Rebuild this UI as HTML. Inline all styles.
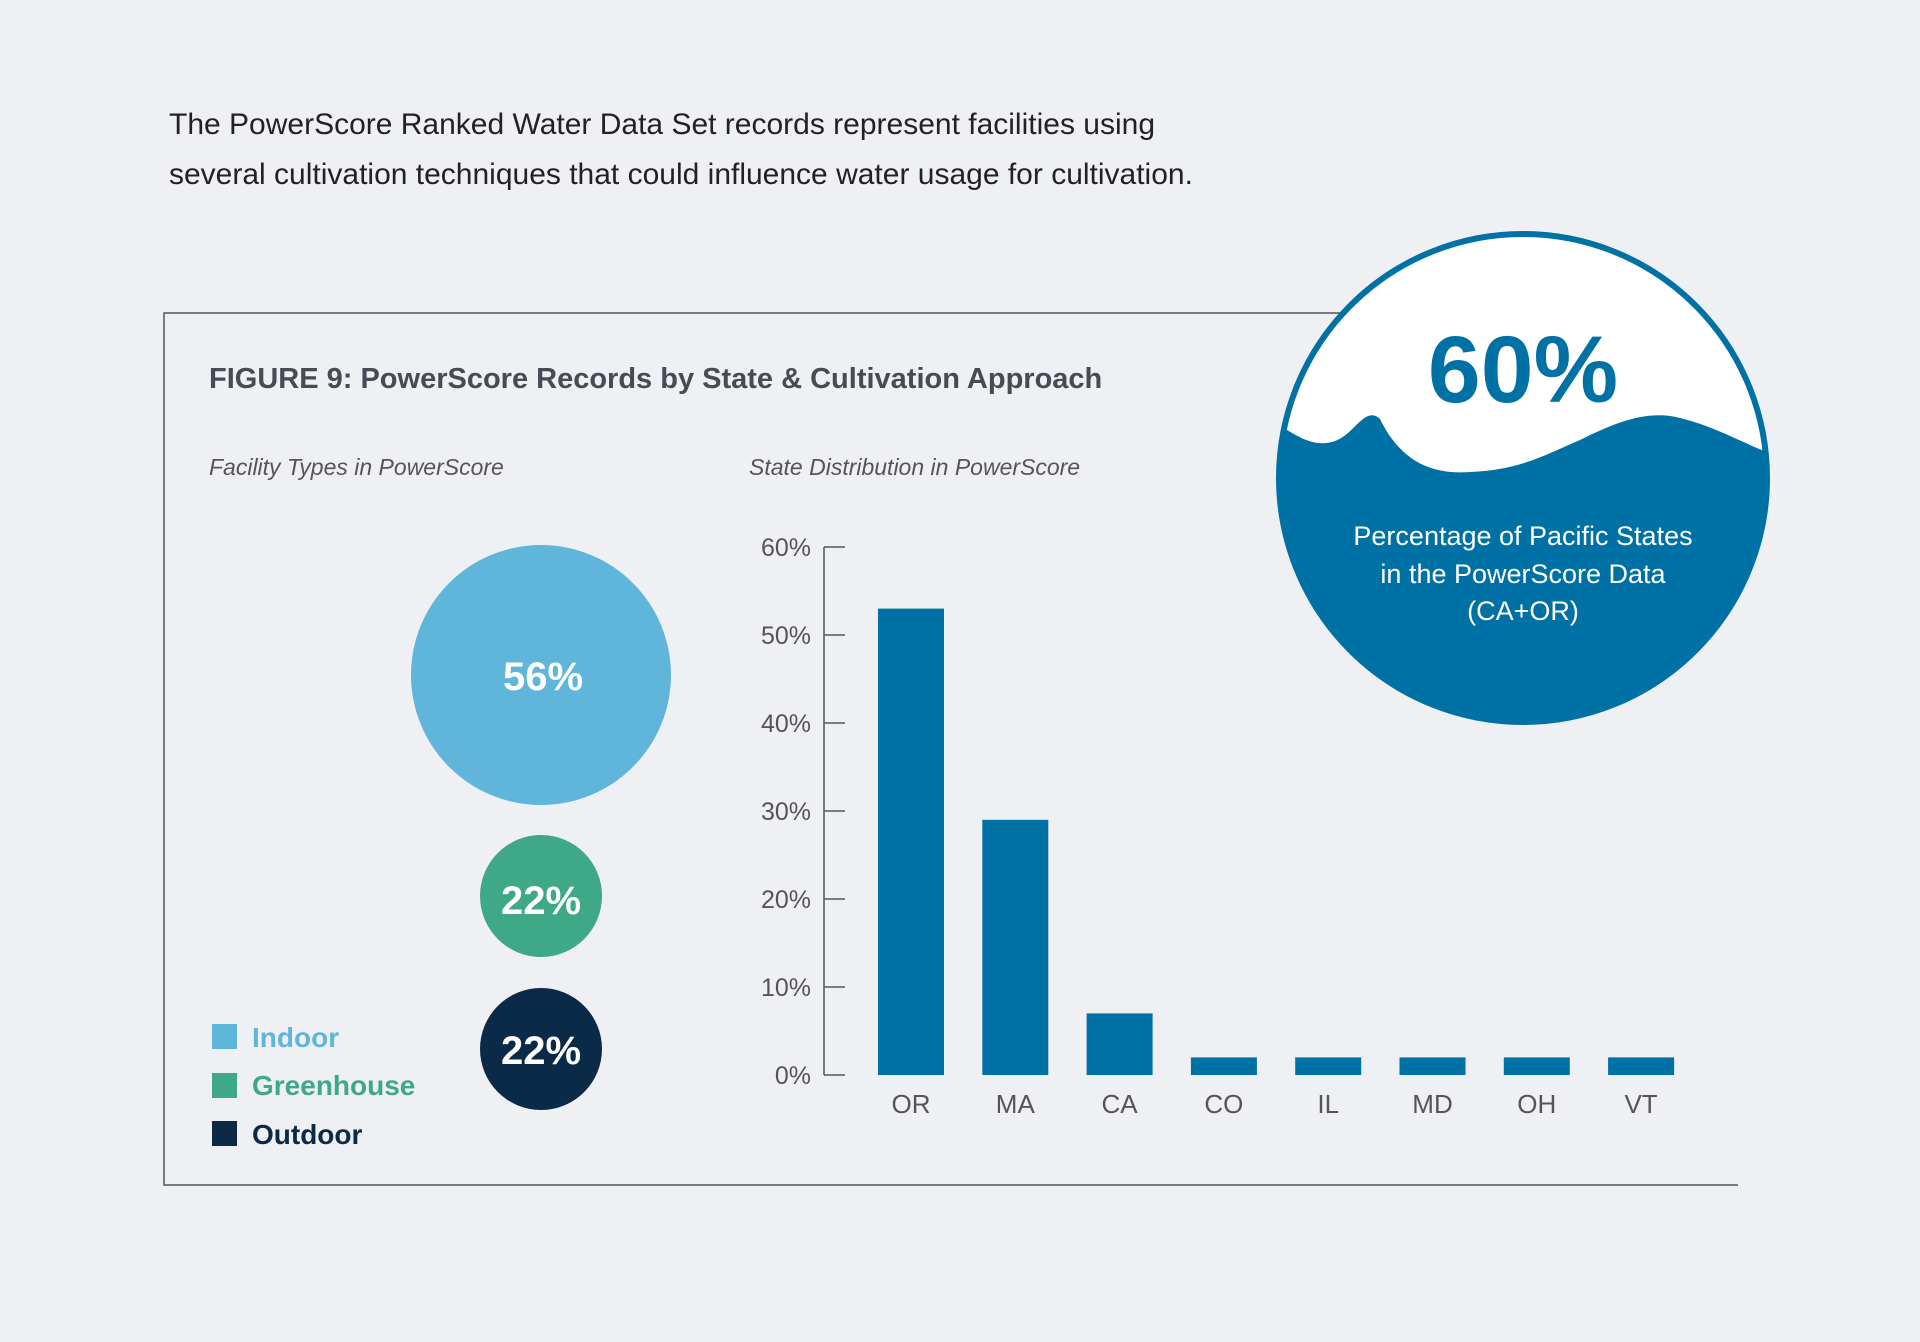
<!DOCTYPE html>
<html><head><meta charset="utf-8">
<style>
body{margin:0;width:1920px;height:1342px;background:#eff0f4;font-family:"Liberation Sans",sans-serif;overflow:hidden}
svg{position:absolute;left:0;top:0}
</style></head>
<body>
<svg width="1920" height="1342">
<g font-size="30" fill="#222" font-weight="300">
<text x="169" y="134">The PowerScore Ranked Water Data Set records represent facilities using</text>
<text x="169" y="184">several cultivation techniques that could influence water usage for cultivation.</text>
</g>
<path d="M1340 313 L164 313 L164 1185 L1738 1185" fill="none" stroke="#555" stroke-width="1.5"/>
<text x="209" y="388" font-size="29" font-weight="bold" fill="#4a4a55">FIGURE 9: PowerScore Records by State &amp; Cultivation Approach</text>
<text x="209" y="475" font-size="23" font-style="italic" fill="#555">Facility Types in PowerScore</text>
<text x="749" y="475" font-size="23" font-style="italic" fill="#555">State Distribution in PowerScore</text>
<g font-weight="bold" font-size="40" fill="#fff" text-anchor="middle">
<circle cx="541" cy="675" r="130" fill="#5fb6da"/>
<text x="543" y="690">56%</text>
<circle cx="541" cy="896" r="61" fill="#3fa886"/>
<text x="541" y="914">22%</text>
<circle cx="541" cy="1049" r="61" fill="#0b2a47"/>
<text x="541" y="1064">22%</text>
</g>
<g font-size="28" font-weight="bold">
<rect x="212" y="1024" width="25" height="25" fill="#5fb6da"/>
<text x="252" y="1047" fill="#5fb6da">Indoor</text>
<rect x="212" y="1073" width="25" height="25" fill="#3fa886"/>
<text x="252" y="1095" fill="#3fa886">Greenhouse</text>
<rect x="212" y="1121" width="25" height="25" fill="#0b2a47"/>
<text x="252" y="1144" fill="#0b2a47">Outdoor</text>
</g>
<g id="chart"></g>
<g>
<defs><clipPath id="cc"><circle cx="1523" cy="478" r="244"/></clipPath></defs>
<circle cx="1523" cy="478" r="244" fill="#fff"/>
<path clip-path="url(#cc)" fill="#0071a4" d="M1270 420 C1290 430 1310 450 1335 441 C1355 434 1365 405 1380 419 C1400 460 1430 475 1470 472 C1520 470 1545 455 1580 440 C1620 420 1650 410 1680 418 C1720 428 1745 445 1775 455 L1775 740 L1270 740 Z"/>
<circle cx="1523" cy="478" r="244" fill="none" stroke="#0071a4" stroke-width="6"/>
<text x="1523" y="402" text-anchor="middle" font-size="95" font-weight="bold" fill="#0071a4">60%</text>
<g font-size="27" fill="#fff" text-anchor="middle">
<text x="1523" y="545">Percentage of Pacific States</text>
<text x="1523" y="583">in the PowerScore Data</text>
<text x="1523" y="620">(CA+OR)</text>
</g>
</g>
</svg>
<script>
const categories=["OR","MA","CA","CO","IL","MD","OH","VT"];
const values=[53,29,7,2,2,2,2,2];
const tickValues=[0,10,20,30,40,50,60];
const tickLabels=["0%","10%","20%","30%","40%","50%","60%"];
const NS="http://www.w3.org/2000/svg";
const g=document.getElementById('chart');
const y0=1075,y1=547,vmax=60;
const y=v=>y0-(v/vmax)*(y0-y1);
const x=i=>911+i*104.3;
function mk(t,a){const e=document.createElementNS(NS,t);for(const k in a)e.setAttribute(k,a[k]);g.appendChild(e);return e;}
const ax=mk('line',{x1:824,y1:y(0),x2:824,y2:y(60),stroke:'#555','stroke-width':1.5});


tickValues.forEach((v,i)=>{
 const t=mk('line',{x1:824,x2:845,y1:y(v),y2:y(v),stroke:'#555','stroke-width':1.5});
 
 
 const l=mk('text',{x:811,y:y(v)+9,'text-anchor':'end','font-size':25,fill:'#555'});
 l.textContent=tickLabels[i];
 
 
});
categories.forEach((c,i)=>{
 const b=mk('rect',{x:x(i)-33,y:y(values[i]),width:66,height:y0-y(values[i]),fill:'#0071a4'});
 
 
 const l=mk('text',{x:x(i),y:1113,'text-anchor':'middle','font-size':26,fill:'#555'});
 l.textContent=c;
 
 
});
</script>
</body></html>
